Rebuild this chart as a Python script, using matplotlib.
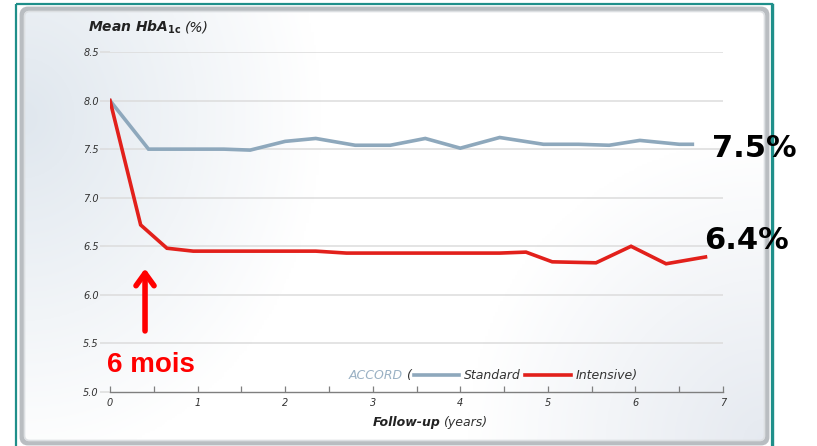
import numpy as np
import matplotlib.pyplot as plt
from matplotlib.patches import FancyBboxPatch, Rectangle

# mean HbA1c (%) over follow-up, ACCORD study
std_years = [0, 0.44, 0.75, 1.0, 1.3, 1.6, 2.0, 2.35, 2.8, 3.2, 3.6, 4.0,
             4.45, 4.95, 5.35, 5.7, 6.05, 6.5, 6.65]
std_hba1c = [8.0, 7.50, 7.50, 7.50, 7.50, 7.49, 7.58, 7.61, 7.54, 7.54, 7.61,
             7.51, 7.62, 7.55, 7.55, 7.54, 7.59, 7.55, 7.55]
int_years = [0, 0.35, 0.65, 0.95, 1.3, 1.65, 2.0, 2.35, 2.7, 3.05, 3.4, 3.75,
             4.1, 4.45, 4.75, 5.05, 5.55, 5.95, 6.35, 6.8]
int_hba1c = [8.0, 6.72, 6.48, 6.45, 6.45, 6.45, 6.45, 6.45, 6.43, 6.43, 6.43,
             6.43, 6.43, 6.43, 6.44, 6.34, 6.33, 6.50, 6.32, 6.39]
y_ticks = [5.0, 5.5, 6.0, 6.5, 7.0, 7.5, 8.0, 8.5]
x_ticks = [0, 1, 2, 3, 4, 5, 6, 7]
final_std = 7.5
final_int = 6.4

W, H = 817, 446
fig = plt.figure(figsize=(W / 100, H / 100), dpi=100)

# background layer in pixel coordinates
bg = fig.add_axes([0, 0, 1, 1])
bg.set_xlim(0, W)
bg.set_ylim(H, 0)
bg.axis('off')

# soft panel gradient: bluish grey at the upper left, white centre, grey bottom-right
gx, gy = np.meshgrid(np.linspace(0, 1, 300), np.linspace(0, 1, 200))
d_left = np.clip(1 - np.hypot(gx / 0.4, (gy - 0.25) / 0.8), 0, 1)
d_br = np.clip(np.hypot((gx - 1) / 0.4, (gy - 1) / 0.7), 0, 1)
blue = np.array([0.87, 0.90, 0.93])
grey = np.array([0.88, 0.90, 0.93])
img = np.ones(gx.shape + (3,))
w_l = d_left[..., None] * 0.95
img = img * (1 - w_l) + blue * w_l
w_br = (1 - d_br)[..., None] * 0.85
img = img * (1 - w_br) + grey * w_br
bg.imshow(img, extent=(22, 767, 443, 9), aspect='auto', zorder=1)

# panel frame with a grey bevel and the teal outer border
bg.add_patch(FancyBboxPatch((22, 9), 745, 434, boxstyle='round,pad=0,rounding_size=6',
                            fill=False, ec='#b9bdc1', lw=3.5, zorder=3))
bg.add_patch(FancyBboxPatch((24.5, 11.5), 740, 429, boxstyle='round,pad=0,rounding_size=5',
                            fill=False, ec='#dcdfe2', lw=1.2, zorder=3))
bg.add_patch(Rectangle((16.5, 3.5), 756, 460, fill=False, ec='#1f8f8a', lw=1.6, zorder=4))
bg.plot([773.5, 773.5], [3.5, 446], color='#1f8f8a', lw=1.0, zorder=4)

ax = fig.add_axes([110 / W, 54 / H, 613 / W, 340 / H])
ax.patch.set_alpha(0)
ax.set_xlim(0, 7)
ax.set_ylim(5.0, 8.5)

for v in y_ticks[1:]:
    ax.axhline(v, color='#dcdcdc', lw=1.1, zorder=1)

ax.plot(std_years, std_hba1c, color='#8ea8bc', lw=2.6, solid_joinstyle='miter', zorder=3)
ax.plot(int_years, int_hba1c, color='#e2201b', lw=2.6, solid_joinstyle='miter', zorder=4)

for s in ['top', 'right', 'left']:
    ax.spines[s].set_visible(False)
ax.spines['bottom'].set_color('#7f7f7f')
ax.spines['bottom'].set_linewidth(1.0)

ax.set_yticks(y_ticks)
ax.set_yticklabels(['%.1f' % v for v in y_ticks])
ax.tick_params(axis='y', length=7, width=1.1, color='#dcdcdc', pad=1,
               labelsize=7, labelcolor='#333333')
ax.set_xticks(x_ticks)
ax.set_xticks(np.arange(0.5, 7, 1), minor=True)
ax.tick_params(axis='x', which='both', direction='in', length=4, width=0.9,
               color='#7f7f7f', pad=4, labelsize=7, labelcolor='#333333')
for lab in ax.get_xticklabels() + ax.get_yticklabels():
    lab.set_fontstyle('italic')

# axis titles
ax.text(-0.25, 8.75, r'Mean HbA$_{\mathbf{1c}}$', fontsize=10, fontweight='bold',
        fontstyle='italic', color='#222222', ha='left', va='center')
ax.text(0.86, 8.75, '(%)', fontsize=10, fontstyle='italic', color='#222222',
        ha='left', va='center')
ax.text(3.0, 4.69, 'Follow-up', fontsize=9, fontweight='bold', fontstyle='italic',
        color='#222222', ha='left', va='center')
ax.text(3.8, 4.69, '(years)', fontsize=9, fontstyle='italic', color='#333333',
        ha='left', va='center')

# legend written inline
ly = 5.17
ax.text(2.73, ly, 'ACCORD', fontsize=9, fontstyle='italic', color='#9ab1c4',
        ha='left', va='center')
ax.text(3.38, ly, '(', fontsize=9, fontstyle='italic', color='#333333',
        ha='left', va='center')
ax.plot([3.47, 3.99], [ly, ly], color='#8ea8bc', lw=2.6, clip_on=False)
ax.text(4.04, ly, 'Standard', fontsize=9, fontstyle='italic', color='#333333',
        ha='left', va='center')
ax.plot([4.74, 5.26], [ly, ly], color='#e2201b', lw=2.6, clip_on=False)
ax.text(5.32, ly, 'Intensive)', fontsize=9, fontstyle='italic', color='#333333',
        ha='left', va='center')

# end values
ax.text(6.88, 7.51, '%.1f%%' % final_std, fontsize=22, fontweight='bold', color='black',
        ha='left', va='center', clip_on=False)
ax.text(6.79, 6.56, '%.1f%%' % final_int, fontsize=22, fontweight='bold', color='black',
        ha='left', va='center', clip_on=False)

# six-month marker
ax.annotate('', xy=(0.4, 6.3), xytext=(0.4, 5.6),
            arrowprops=dict(arrowstyle='->,head_length=0.9,head_width=0.65',
                            color='#ff0000', lw=4))
ax.text(-0.03, 5.28, '6 mois', fontsize=20, fontweight='bold', color='#ff0000',
        family='Liberation Sans', ha='left', va='center')

fig.savefig('out.png', dpi=100)
